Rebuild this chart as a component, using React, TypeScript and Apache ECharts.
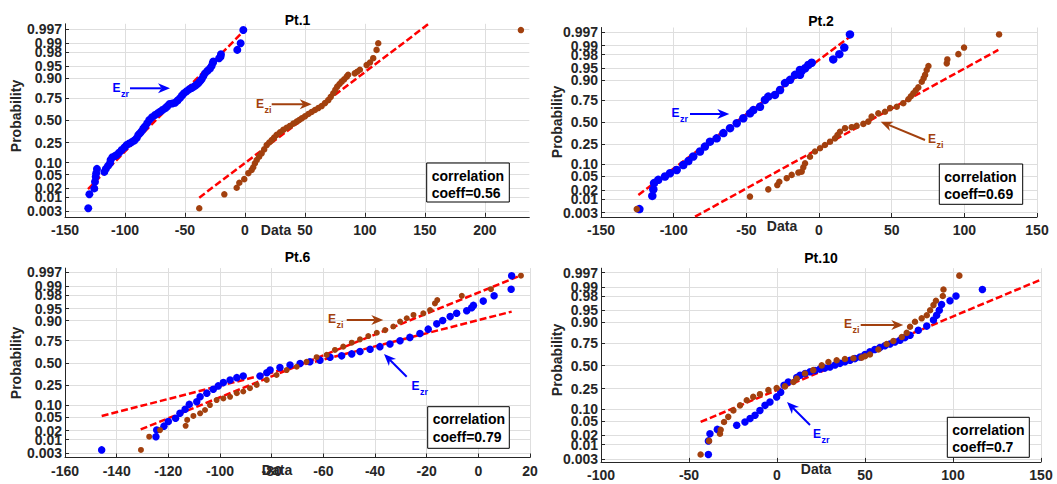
import React, { useEffect, useRef } from "react";
import * as echarts from "echarts";

// ---------- tick definitions ----------
const probTicks = [0.003, 0.01, 0.02, 0.05, 0.1, 0.25, 0.5, 0.75, 0.9, 0.95, 0.98, 0.99, 0.997];
const probTickLabels = ["0.003", "0.01", "0.02", "0.05", "0.10", "0.25", "0.50", "0.75", "0.90", "0.95", "0.98", "0.99", "0.997"];

const pt1XTicks = [-150, -100, -50, 0, 50, 100, 150, 200];
const pt2XTicks = [-150, -100, -50, 0, 50, 100, 150];
const pt6XTicks = [-160, -140, -120, -100, -80, -60, -40, -20, 0, 20];
const pt10XTicks = [-100, -50, 0, 50, 100, 150];

const panelTitles = ["Pt.1", "Pt.2", "Pt.6", "Pt.10"];
const correlationCoeffs = ["0.56", "0.69", "0.79", "0.7"];

// ---------- data: [data value, normal quantile of plotting position] ----------
const pt1Zr: number[][] = [
  [-130.6, -2.66], [-129.7, -2.24], [-125.6, -2.06], [-125, -1.86], [-124.4, -1.71], [-124, -1.6],
  [-123.4, -1.47], [-117.2, -1.56], [-116, -1.47], [-114.2, -1.38], [-112.5, -1.3], [-112, -1.2],
  [-110.5, -1.12], [-108.3, -1.08], [-106.9, -1.05], [-105, -0.98], [-102.8, -0.9], [-100.5, -0.82],
  [-98.6, -0.75], [-96.5, -0.7], [-94.4, -0.66], [-92.3, -0.61], [-90.3, -0.54], [-88.9, -0.44],
  [-87.5, -0.39], [-86.1, -0.33], [-84.7, -0.25], [-83.3, -0.19], [-81.5, -0.09], [-79.8, 0.01],
  [-77.5, 0.09], [-75, 0.16], [-72.9, 0.21], [-70.8, 0.26], [-68.8, 0.31], [-66.7, 0.36],
  [-64.9, 0.42], [-63.1, 0.49], [-60.7, 0.51], [-58.3, 0.53], [-56.2, 0.6], [-54.2, 0.67],
  [-52.5, 0.75], [-50.8, 0.82], [-48.6, 0.88], [-46.4, 0.94], [-44.4, 0.98], [-42.5, 1.02],
  [-40.7, 1.07], [-38.9, 1.12], [-37.5, 1.18], [-36.1, 1.24], [-34.7, 1.33], [-33.3, 1.42],
  [-31.2, 1.5], [-29.2, 1.57], [-27.8, 1.64], [-26.9, 1.73], [-26.4, 1.78], [-21.5, 1.88],
  [-20.3, 1.93], [-20, 2.0], [-6.4, 2.13], [-3.6, 2.33], [-1.4, 2.73],
];
const pt1Zi: number[][] = [
  [-38.1, -2.66], [-17.2, -2.24], [-6.9, -2.04], [-4.7, -1.89], [-0.6, -1.78], [2.8, -1.6],
  [5.6, -1.5], [6.9, -1.42], [8.3, -1.3], [9.8, -1.2], [11.8, -1.1], [13.9, -1.0], [16, -0.88],
  [18.1, -0.75], [20.2, -0.67], [22.3, -0.6], [24.3, -0.52], [26.4, -0.44], [29.2, -0.36],
  [31.9, -0.29], [34.7, -0.23], [37.5, -0.17], [40.3, -0.1], [43.1, -0.04], [45.2, 0.01],
  [47.3, 0.06], [50, 0.12], [52.8, 0.19], [55.5, 0.25], [58.3, 0.31], [61.1, 0.37], [63.9, 0.43],
  [66.7, 0.52], [69.4, 0.61], [71.5, 0.71], [73.6, 0.82], [75.3, 0.92], [76.9, 1.02], [78.8, 1.1],
  [80.6, 1.17], [82.7, 1.24], [84.8, 1.32], [86, 1.38], [91.5, 1.42], [93.5, 1.47], [95.8, 1.53],
  [101.4, 1.67], [104.2, 1.75], [106.9, 1.88], [109.7, 2.13], [111.1, 2.33], [230, 2.73],
];
const pt2Zr: number[][] = [
  [-123.6, -2.64], [-114.7, -2.24], [-114, -2.04], [-113.5, -1.85], [-110.6, -1.75], [-106, -1.65],
  [-102.5, -1.55], [-97.9, -1.45], [-93.4, -1.3], [-89.9, -1.18], [-86.5, -1.04], [-81.9, -0.89],
  [-78.5, -0.74], [-75, -0.59], [-70.4, -0.49], [-65.8, -0.33], [-61.2, -0.18], [-56.6, -0.03],
  [-52.1, 0.12], [-47.5, 0.27], [-45.2, 0.37], [-40.6, 0.47], [-37.2, 0.68], [-34.9, 0.78],
  [-30.3, 0.83], [-26.8, 0.98], [-23.4, 1.19], [-19.9, 1.29], [-16.5, 1.44], [-13.1, 1.44],
  [-13.1, 1.59], [-11.9, 1.56], [-9.6, 1.64], [-7.4, 1.74], [-5, 1.81], [9.8, 1.91], [14, 2.07],
  [17.4, 2.27], [21.3, 2.67],
];
const pt2Zi: number[][] = [
  [-125.4, -2.64], [-47.5, -2.26], [-34.9, -2.04], [-28.7, -1.91], [-27.3, -1.81], [-22.2, -1.7],
  [-18.8, -1.6], [-14.2, -1.53], [-11.9, -1.5], [-10.8, -1.37], [-9.6, -1.25], [-6.2, -1.05],
  [-2.8, -0.89], [0.7, -0.79], [4.1, -0.69], [7.6, -0.59], [11, -0.49], [12.7, -0.39], [14.4, -0.29],
  [17.9, -0.18], [22.5, -0.15], [25.9, -0.11], [30.5, -0.05], [33.9, 0.02], [36.2, 0.17],
  [40.8, 0.27], [45.4, 0.32], [48.9, 0.43], [53.5, 0.47], [58, 0.58], [61.5, 0.7], [63.2, 0.79],
  [64.9, 0.88], [66.6, 0.97], [68.3, 1.06], [70.7, 1.23], [72, 1.34], [73, 1.44], [74.1, 1.59],
  [75.3, 1.71], [87.9, 1.79], [88.3, 1.91], [95.9, 2.07], [99.8, 2.27], [123.9, 2.67],
];
const pt6Zr: number[][] = [
  [-145.8, -2.64], [-124.8, -2.24], [-124.5, -2.04], [-121.7, -1.92], [-120, -1.78], [-117.2, -1.68],
  [-115.5, -1.53], [-113.5, -1.41], [-111.9, -1.26], [-109, -1.18], [-107.7, -1.03], [-105.1, -0.92],
  [-102.6, -0.8], [-100.7, -0.7], [-98.7, -0.6], [-96.1, -0.52], [-93.5, -0.45], [-91, -0.4],
  [-84.5, -0.4], [-81.9, -0.3], [-80.6, -0.22], [-76.8, -0.14], [-72.9, -0.07], [-69, -0.02],
  [-65.2, 0.03], [-61.3, 0.08], [-57.4, 0.17], [-52.9, 0.21], [-49, 0.27], [-45.8, 0.34],
  [-41.9, 0.41], [-38.1, 0.49], [-34.2, 0.57], [-30.3, 0.67], [-26.5, 0.77], [-22.6, 0.89],
  [-19.4, 1.02], [-16.1, 1.18], [-13.8, 1.28], [-10.9, 1.4], [-8.4, 1.5], [-4.5, 1.58],
  [-2.6, 1.67], [-1.9, 1.74], [1.9, 1.87], [6.1, 2.03], [12.7, 2.23], [12.9, 2.64],
];
const pt6Zi: number[][] = [
  [-130.6, -2.64], [-127.4, -2.24], [-123.2, -2.04], [-113.3, -1.91], [-112.7, -1.73], [-110.3, -1.61],
  [-107.7, -1.53], [-105.8, -1.43], [-103.9, -1.28], [-101.3, -1.13], [-98.7, -1.08], [-96.1, -1.03],
  [-93.5, -0.92], [-91, -0.87], [-88.4, -0.77], [-85.8, -0.67], [-81.9, -0.52], [-78.1, -0.37],
  [-74.2, -0.22], [-70.3, -0.12], [-66.5, 0.03], [-62.6, 0.17], [-58.7, 0.24], [-55.5, 0.39],
  [-52.3, 0.49], [-49, 0.61], [-45.8, 0.71], [-42.6, 0.81], [-39.3, 0.91], [-36.1, 0.99],
  [-32.9, 1.1], [-30.3, 1.25], [-27.7, 1.35], [-25.1, 1.45], [-21.3, 1.5], [-18.7, 1.6],
  [-16.8, 1.8], [-15.9, 1.9], [-6.4, 2.03], [4.9, 2.23], [16.5, 2.64],
];
const pt10Zr: number[][] = [
  [-39, -2.62], [-39, -2.22], [-38.1, -2.01], [-33.9, -1.88], [-22.9, -1.76], [-18.2, -1.66],
  [-15.3, -1.56], [-12.5, -1.46], [-9.7, -1.32], [-6.8, -1.17], [-4, -1.07], [-0.2, -0.92],
  [2.1, -0.78], [4, -0.58], [6.4, -0.48], [11.2, -0.35], [13.1, -0.28], [16, -0.23], [18.8, -0.18],
  [21.6, -0.14], [24.4, -0.1], [27.2, -0.07], [30.1, -0.04], [33, 0.02], [35.8, 0.07], [38.6, 0.12],
  [41.5, 0.16], [44.3, 0.21], [47.2, 0.26], [50, 0.33], [52.8, 0.41], [55.6, 0.48], [58.5, 0.54],
  [61.3, 0.59], [64.2, 0.64], [67, 0.7], [69.9, 0.75], [72.7, 0.83], [75.6, 0.9], [80.3, 1.05],
  [85.1, 1.17], [88.9, 1.35], [90.7, 1.49], [92.2, 1.64], [93.5, 1.81], [98.3, 1.92], [101.7, 2.06],
  [116.7, 2.25],
];
const pt10Zi: number[][] = [
  [-43.4, -2.62], [-38.6, -2.22], [-32.4, -2.01], [-32, -1.89], [-30.1, -1.66], [-27.7, -1.51],
  [-24.8, -1.32], [-21, -1.17], [-17.2, -1.02], [-13.5, -0.92], [-9.7, -0.84], [-4.9, -0.72],
  [-0.2, -0.66], [4.5, -0.61], [9.3, -0.48], [11.2, -0.38], [15.9, -0.23], [20.6, -0.13],
  [25.4, 0.01], [29.2, 0.11], [33.9, 0.16], [38.6, 0.2], [43.4, 0.22], [48.1, 0.24], [50, 0.28],
  [52.8, 0.33], [57.6, 0.48], [62.3, 0.64], [66.1, 0.73], [70.9, 0.85], [73.7, 0.97], [75.6, 1.15],
  [78.4, 1.3], [82.2, 1.4], [85.1, 1.49], [87, 1.64], [88.9, 1.79], [90.3, 1.92], [94.2, 2.06],
  [94.6, 2.25], [103.6, 2.66],
];

// reference (fit) lines, two end points each
const pt1RefLines = [[[-130.8, -2.08], [0, 2.74]], [[-38.1, -2.34], [152.8, 2.91]]];
const pt2RefLines = [[[-124.3, -2.21], [21.3, 2.6]], [[-85.3, -2.87], [123.4, 2.2]]];
const pt6RefLines = [[[-145.8, -1.61], [12.9, 1.55]], [[-130.7, -2.02], [16.8, 2.66]]];
const pt10RefLines = [[[-43.4, -1.66], [149.4, 2.53]]];

// ---------- helpers ----------
function normInv(p: number): number {
  const a = [-39.69683028665376, 220.9460984245205, -275.9285104469687, 138.357751867269, -30.66479806614716, 2.506628277459239];
  const b = [-54.47609879822406, 161.5858368580409, -155.6989798598866, 66.80131188771972, -13.28068155288572];
  const c = [-0.007784894002430293, -0.3223964580411365, -2.400758277161838, -2.549732539343734, 4.374664141464968, 2.938163982698783];
  const d = [0.007784695709041462, 0.3224671290700398, 2.445134137142996, 3.754408661907416];
  const pl = 0.02425;
  if (p < pl) {
    const q = Math.sqrt(-2 * Math.log(p));
    return (((((c[0] * q + c[1]) * q + c[2]) * q + c[3]) * q + c[4]) * q + c[5]) / ((((d[0] * q + d[1]) * q + d[2]) * q + d[3]) * q + 1);
  }
  if (p <= 1 - pl) {
    const q = p - 0.5;
    const r = q * q;
    return ((((((a[0] * r + a[1]) * r + a[2]) * r + a[3]) * r + a[4]) * r + a[5]) * q) / (((((b[0] * r + b[1]) * r + b[2]) * r + b[3]) * r + b[4]) * r + 1);
  }
  const q = Math.sqrt(-2 * Math.log(1 - p));
  return -(((((c[0] * q + c[1]) * q + c[2]) * q + c[3]) * q + c[4]) * q + c[5]) / ((((d[0] * q + d[1]) * q + d[2]) * q + d[3]) * q + 1);
}

const probTickQ = probTicks.map(normInv);
function probLabel(v: number): string {
  let best = 0;
  for (let i = 1; i < probTickQ.length; i++) {
    if (Math.abs(probTickQ[i] - v) < Math.abs(probTickQ[best] - v)) best = i;
  }
  return probTickLabels[best];
}

const BLUE = "#0000ff";
const BROWN = "#a2400e";
const RED = "#ff0000";
const AXIS = "#262626";
const GRIDC = "#dedede";
const FONT = "'Liberation Sans', Arial, Helvetica, sans-serif";

function arrow(x1: number, y1: number, x2: number, y2: number, color: string): any[] {
  const dx = x2 - x1;
  const dy = y2 - y1;
  const len = Math.hypot(dx, dy);
  const ux = dx / len;
  const uy = dy / len;
  const hl = 12;
  const hw = 5;
  const bx = x2 - ux * hl;
  const by = y2 - uy * hl;
  const ix = x2 - ux * (hl - 3.5);
  const iy = y2 - uy * (hl - 3.5);
  return [
    { type: "line", shape: { x1, y1, x2: ix, y2: iy }, style: { stroke: color, lineWidth: 2 }, z: 100 },
    {
      type: "polygon",
      shape: { points: [[x2, y2], [bx - uy * hw, by + ux * hw], [ix, iy], [bx + uy * hw, by - ux * hw]] },
      style: { fill: color },
      z: 100,
    },
  ];
}

function eLabel(x: number, y: number, sub: string, color: string): any[] {
  return [
    { type: "text", x, y, z: 100, style: { text: "E", fill: color, fontSize: 12, fontWeight: "bold", fontFamily: FONT, align: "left", verticalAlign: "middle" } },
    { type: "text", x: x + 8.5, y: y + 6, z: 100, style: { text: sub, fill: color, fontSize: 9, fontWeight: "bold", fontFamily: FONT, align: "left", verticalAlign: "middle" } },
  ];
}

function corrBox(x: number, y: number, w: number, h: number, coeff: string): any[] {
  return [
    { type: "rect", shape: { x, y, width: w, height: h }, style: { fill: "#ffffff", stroke: "#000000", lineWidth: 1 }, z: 90 },
    { type: "text", x: x + 5, y: y + 12.5, z: 91, style: { text: "correlation", fill: "#000", fontSize: 14, fontWeight: "bold", fontFamily: FONT, align: "left", verticalAlign: "middle" } },
    { type: "text", x: x + 5, y: y + 30, z: 91, style: { text: "coeff=" + coeff, fill: "#000", fontSize: 14, fontWeight: "bold", fontFamily: FONT, align: "left", verticalAlign: "middle" } },
  ];
}

function plainText(x: number, y: number, text: string, size: number, color: string, rotation = 0): any {
  return {
    type: "text",
    x,
    y,
    rotation,
    z: 100,
    style: { text, fill: color, fontSize: size, fontWeight: "bold", fontFamily: FONT, align: "center", verticalAlign: "middle" },
  };
}

const panels = [
  { zr: pt1Zr, zi: pt1Zi, ref: pt1RefLines, xTicks: pt1XTicks, xMin: -150, xMax: 237, yMin: -2.92, yMax: 2.92, zrSize: 8, ziSize: 6.5 },
  { zr: pt2Zr, zi: pt2Zi, ref: pt2RefLines, xTicks: pt2XTicks, xMin: -150, xMax: 150, yMin: -2.88, yMax: 2.88, zrSize: 8.5, ziSize: 6.5 },
  { zr: pt6Zr, zi: pt6Zi, ref: pt6RefLines, xTicks: pt6XTicks, xMin: -160, xMax: 20, yMin: -2.87, yMax: 2.87, zrSize: 7.5, ziSize: 6 },
  { zr: pt10Zr, zi: pt10Zi, ref: pt10RefLines, xTicks: pt10XTicks, xMin: -100, xMax: 150, yMin: -2.84, yMax: 2.88, zrSize: 7.5, ziSize: 6.5 },
];

const gridRects = [
  { left: 65, top: 23.8, width: 464.3, height: 193 },
  { left: 601, top: 27.5, width: 436, height: 189.5 },
  { left: 65, top: 268.1, width: 465, height: 189.4 },
  { left: 601, top: 268.2, width: 440, height: 193.7 },
];

function buildOption(): any {
  const grid = gridRects.map((g) => ({ ...g, containLabel: false }));
  const xAxis = panels.map((p, i) => ({
    type: "value",
    gridIndex: i,
    min: p.xMin,
    max: p.xMax,
    axisLine: { show: true, onZero: false, lineStyle: { color: AXIS, width: 1 } },
    axisTick: { show: true, inside: true, length: 4, customValues: p.xTicks, lineStyle: { color: AXIS } },
    axisLabel: { customValues: p.xTicks, color: AXIS, fontSize: 14, fontWeight: "bold", fontFamily: FONT, margin: 6, formatter: (v: number) => String(v) },
    splitLine: { show: true, lineStyle: { color: GRIDC, width: 1 } },
  }));
  const yAxis = panels.map((p, i) => ({
    type: "value",
    gridIndex: i,
    min: p.yMin,
    max: p.yMax,
    axisLine: { show: true, onZero: false, lineStyle: { color: AXIS, width: 1 } },
    axisTick: { show: true, inside: true, length: 4, customValues: probTickQ, lineStyle: { color: AXIS } },
    axisLabel: { customValues: probTickQ, color: AXIS, fontSize: 14, fontWeight: "bold", fontFamily: FONT, margin: 3, formatter: (v: number) => probLabel(v) },
    splitLine: { show: true, lineStyle: { color: GRIDC, width: 1 } },
  }));
  const series: any[] = [];
  panels.forEach((p, i) => {
    p.ref.forEach((seg) => {
      series.push({
        type: "line",
        xAxisIndex: i,
        yAxisIndex: i,
        data: seg,
        symbol: "none",
        silent: true,
        z: 1,
        lineStyle: { color: RED, width: 2.5, type: [7, 3] },
      });
    });
    series.push({
      type: "scatter",
      xAxisIndex: i,
      yAxisIndex: i,
      data: p.zr,
      symbolSize: p.zrSize,
      z: 2,
      itemStyle: { color: BLUE, opacity: 1 },
    });
    series.push({
      type: "scatter",
      xAxisIndex: i,
      yAxisIndex: i,
      data: p.zi,
      symbolSize: p.ziSize,
      z: 3,
      itemStyle: { color: BROWN, opacity: 1 },
    });
  });

  const graphic: any[] = [
    plainText(297.5, 20, panelTitles[0], 14, "#000"),
    plainText(821, 21, panelTitles[1], 14, "#000"),
    plainText(297.5, 257, panelTitles[2], 14, "#000"),
    plainText(821, 257.5, panelTitles[3], 14, "#000"),
    plainText(276, 230, "Data", 14, AXIS),
    plainText(782, 226, "Data", 14, AXIS),
    plainText(277, 470, "Data", 14, AXIS),
    plainText(816, 469, "Data", 14, AXIS),
    plainText(16, 116, "Probability", 14, AXIS, Math.PI / 2),
    plainText(557, 122, "Probability", 14, AXIS, Math.PI / 2),
    plainText(16, 363, "Probability", 14, AXIS, Math.PI / 2),
    plainText(557, 360, "Probability", 14, AXIS, Math.PI / 2),
    ...corrBox(426.7, 163, 82.6, 39, correlationCoeffs[0]),
    ...corrBox(939.3, 164, 83.4, 40.3, correlationCoeffs[1]),
    ...corrBox(427.7, 406.7, 81.6, 41.6, correlationCoeffs[2]),
    ...corrBox(947.3, 417.3, 82, 40, correlationCoeffs[3]),
    // Pt.1
    ...eLabel(112.5, 87.5, "zr", BLUE),
    ...arrow(130, 88.3, 170, 88.3, BLUE),
    ...eLabel(256, 104, "zi", BROWN),
    ...arrow(271.7, 104.3, 311.7, 104.3, BROWN),
    // Pt.2
    ...eLabel(671.5, 112.5, "zr", BLUE),
    ...arrow(690, 114, 729.3, 114, BLUE),
    ...eLabel(928, 139, "zi", BROWN),
    ...arrow(925, 140, 880.7, 121.7, BROWN),
    // Pt.6
    ...eLabel(328, 319, "zi", BROWN),
    ...arrow(346.7, 320, 383.3, 320, BROWN),
    ...eLabel(411.5, 386, "zr", BLUE),
    ...arrow(406.7, 376.7, 384, 354, BLUE),
    // Pt.10
    ...eLabel(844, 324, "zi", BROWN),
    ...arrow(860.7, 325, 903.3, 325, BROWN),
    ...eLabel(813, 434, "zr", BLUE),
    ...arrow(810, 425, 787, 402, BLUE),
  ];

  return {
    animation: false,
    backgroundColor: "#ffffff",
    textStyle: { fontFamily: FONT },
    grid,
    xAxis,
    yAxis,
    series,
    graphic,
  };
}

export default function App() {
  const ref = useRef<HTMLDivElement>(null);
  useEffect(() => {
    if (!ref.current) return;
    const chart = echarts.init(ref.current, undefined, { renderer: "svg" });
    chart.setOption(buildOption());
    return () => {
      chart.dispose();
    };
  }, []);
  return (
    <div
      ref={ref}
      style={{ position: "absolute", left: 0, top: 0, width: 1057, height: 484, background: "#fff" }}
    />
  );
}
